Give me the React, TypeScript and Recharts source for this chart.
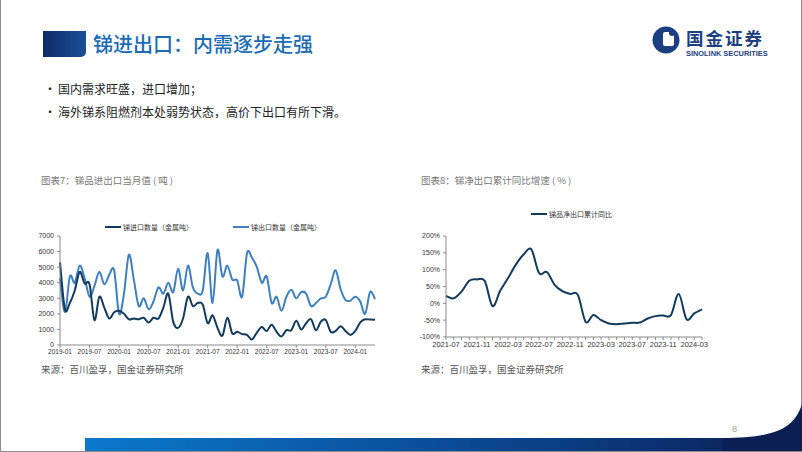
import { LineChart, Line, XAxis, YAxis } from "recharts";

// 图表7：锑品进出口当月值（吨）
const leftMonths = [
  "2019-01", "2019-02", "2019-03", "2019-04", "2019-05", "2019-06", "2019-07", "2019-08", "2019-09", "2019-10", "2019-11", "2019-12",
  "2020-01", "2020-02", "2020-03", "2020-04", "2020-05", "2020-06", "2020-07", "2020-08", "2020-09", "2020-10", "2020-11", "2020-12",
  "2021-01", "2021-02", "2021-03", "2021-04", "2021-05", "2021-06", "2021-07", "2021-08", "2021-09", "2021-10", "2021-11", "2021-12",
  "2022-01", "2022-02", "2022-03", "2022-04", "2022-05", "2022-06", "2022-07", "2022-08", "2022-09", "2022-10", "2022-11", "2022-12",
  "2023-01", "2023-02", "2023-03", "2023-04", "2023-05", "2023-06", "2023-07", "2023-08", "2023-09", "2023-10", "2023-11", "2023-12",
  "2024-01", "2024-02", "2024-03", "2024-04", "2024-05",
];

const importTons = [
  5300, 2300, 2700, 3500, 4700, 3950, 3900, 1600, 3100, 2400, 1700, 2100,
  2200, 2000, 1650, 1700, 1650, 1750, 1450, 1750, 1700, 2400, 3300, 1500,
  1100, 1700, 3100, 2500, 2700, 2600, 1400, 1900, 1100, 600, 1750, 750,
  850, 700, 650, 350, 800, 1150, 900, 1300, 850, 550, 950, 950,
  1550, 1000, 1400, 1650, 950, 1500, 1600, 850, 900, 1200, 900, 650,
  900, 1450, 1650, 1630, 1620,
];

const exportTons = [
  4300, 2100, 4400, 4000, 5100, 4300, 3100, 3800, 4700, 3900, 4500, 4800,
  2000, 3300, 5800, 4200, 2500, 3000, 2300, 2800, 3700, 3300, 4000, 3400,
  4900, 3500, 5100, 3700, 3300, 3500, 5900, 2700, 6100, 4400, 5100, 4200,
  4150, 3100, 5900, 5600, 5000, 4000, 4400, 2700, 3100, 2200, 3100, 3550,
  3000, 3400, 3300, 2500, 2700, 3000, 3100, 3900, 4800, 3600, 2900, 2850,
  3100, 2800, 2000, 3400, 2950,
];

const leftYTicks = [0, 1000, 2000, 3000, 4000, 5000, 6000, 7000];

// 图表8：锑净出口累计同比增速（%）
const rightMonths = [
  "2021-07", "2021-08", "2021-09", "2021-10", "2021-11", "2021-12",
  "2022-01", "2022-02", "2022-03", "2022-04", "2022-05", "2022-06", "2022-07", "2022-08", "2022-09", "2022-10", "2022-11", "2022-12",
  "2023-01", "2023-02", "2023-03", "2023-04", "2023-05", "2023-06", "2023-07", "2023-08", "2023-09", "2023-10", "2023-11", "2023-12",
  "2024-01", "2024-02", "2024-03", "2024-04",
];

const netExportYoY = [
  22, 15, 35, 67, 71, 66,
  -8, 38, 75, 115, 145, 160, 90, 93, 55, 36, 28, 25,
  -55, -35, -50, -60, -62, -60, -58, -57, -45, -38, -36, -35,
  28, -47, -30, -18,
];

const rightTickLabels = ["2021-07", "2021-11", "2022-03", "2022-07", "2022-11", "2023-03", "2023-07", "2023-11", "2024-03"];
const rightYTicks = [-100, -50, 0, 50, 100, 150, 200];

const leftData = leftMonths.map((month, i) => ({
  month,
  importTons: importTons[i],
  exportTons: exportTons[i],
}));

const rightData = rightMonths.map((month, i) => ({
  month,
  netExportYoY: netExportYoY[i],
}));

const cjk = '"Noto Sans CJK SC", "Noto Sans", sans-serif';
const latin = '"Liberation Sans", Arial, sans-serif';
const axisColor = "#8a8a8a";
const darkLine = "#123a5c";
const lightLine = "#3f80c2";

// Excel-style smoothed line (Catmull-Rom through every point)
function smoothCurve(context: any) {
  let pts: [number, number][] = [];
  return {
    areaStart() {},
    areaEnd() {},
    lineStart() {
      pts = [];
    },
    lineEnd() {
      if (!pts.length) return;
      context.moveTo(pts[0][0], pts[0][1]);
      for (let i = 0; i < pts.length - 1; i++) {
        const p0 = pts[i - 1] || pts[i];
        const p1 = pts[i];
        const p2 = pts[i + 1];
        const p3 = pts[i + 2] || p2;
        context.bezierCurveTo(
          p1[0] + (p2[0] - p0[0]) / 6,
          p1[1] + (p2[1] - p0[1]) / 6,
          p2[0] - (p3[0] - p1[0]) / 6,
          p2[1] - (p3[1] - p1[1]) / 6,
          p2[0],
          p2[1]
        );
      }
    },
    point(x: number, y: number) {
      pts.push([+x, +y]);
    },
  };
}

export default function App() {
  return (
    <div
      style={{
        position: "absolute",
        left: 0,
        top: 0,
        width: 802,
        height: 452,
        background: "#ffffff",
        overflow: "hidden",
        fontFamily: cjk,
      }}
    >
      {/* frame */}
      <div style={{ position: "absolute", left: 0, top: 0, width: 1, height: 452, background: "#8c8c8c" }} />
      <div style={{ position: "absolute", right: 0, top: 0, width: 1, height: 452, background: "#8c8c8c" }} />

      {/* title */}
      <div
        style={{
          position: "absolute",
          left: 43,
          top: 31,
          width: 43,
          height: 26,
          background: "linear-gradient(90deg, #0d2c68, #1b4f96)",
          borderBottomRightRadius: 5,
        }}
      />
      <div
        style={{
          position: "absolute",
          left: 93,
          top: 31,
          fontSize: 20,
          lineHeight: "26px",
          color: "#1a6cb6",
          fontWeight: 500,
          whiteSpace: "nowrap",
        }}
      >
        锑进出口：内需逐步走强
      </div>

      {/* logo */}
      <svg style={{ position: "absolute", left: 650, top: 26 }} width={34} height={30}>
        <circle cx={16} cy={14} r={13.5} fill="#1b3f80" />
        <rect x={13} y={6} width={11} height={14} rx={2} fill="#ffffff" />
        <circle cx={22} cy={7} r={3} fill="#1b3f80" />
      </svg>
      <div
        style={{
          position: "absolute",
          left: 686,
          top: 28,
          fontSize: 17.5,
          lineHeight: "20px",
          fontWeight: 700,
          color: "#1b3f80",
          letterSpacing: 2,
          whiteSpace: "nowrap",
        }}
      >
        国金证券
      </div>
      <div
        style={{
          position: "absolute",
          left: 686,
          top: 49,
          fontSize: 7.4,
          lineHeight: "9px",
          fontWeight: 700,
          color: "#1b3f80",
          fontFamily: latin,
          whiteSpace: "nowrap",
        }}
      >
        SINOLINK SECURITIES
      </div>

      {/* bullets */}
      {["国内需求旺盛，进口增加；", "海外锑系阻燃剂本处弱势状态，高价下出口有所下滑。"].map((text, i) => (
        <div
          key={text}
          style={{
            position: "absolute",
            left: 44,
            top: 81 + i * 23,
            fontSize: 12,
            lineHeight: "16px",
            color: "#222",
            whiteSpace: "nowrap",
          }}
        >
          <span style={{ display: "inline-block", width: 14 }}>•</span>
          {text}
        </div>
      ))}

      {/* captions */}
      <div style={captionStyle(41)}>图表7：锑品进出口当月值 ( 吨 )</div>
      <div style={captionStyle(421)}>图表8：锑净出口累计同比增速 ( % )</div>

      {/* left legend */}
      <LegendItem left={105} top={227} color={darkLine} label="锑进口数量（金属吨）" />
      <LegendItem left={233} top={227} color={lightLine} label="锑出口数量（金属吨）" />

      {/* left chart */}
      <div style={{ position: "absolute", left: 20, top: 225 }}>
        <LineChart width={365} height={140} data={leftData} margin={{ top: 11, right: 10, bottom: 0, left: 0 }}>
          <XAxis
            dataKey="month"
            interval={5}
            height={20}
            tickSize={3}
            tickMargin={1}
            stroke={axisColor}
            tick={{ fontSize: 6.5, fill: "#333", fontFamily: latin }}
          />
          <YAxis
            width={40}
            domain={[0, 7000]}
            ticks={leftYTicks}
            tickSize={3}
            tickMargin={3}
            stroke={axisColor}
            tick={{ fontSize: 7, fill: "#333", fontFamily: latin }}
          />
          <Line
            type={smoothCurve as any}
            dataKey="exportTons"
            stroke={lightLine}
            strokeWidth={2}
            dot={false}
            isAnimationActive={false}
          />
          <Line
            type={smoothCurve as any}
            dataKey="importTons"
            stroke={darkLine}
            strokeWidth={2}
            dot={false}
            isAnimationActive={false}
          />
        </LineChart>
      </div>

      {/* right legend */}
      <LegendItem left={531} top={214} color={darkLine} label="锑品净出口累计同比" />

      {/* right chart */}
      <div style={{ position: "absolute", left: 400, top: 225 }}>
        <LineChart width={310} height={132} data={rightData} margin={{ top: 11, right: 8, bottom: 0, left: 0 }}>
          <XAxis
            dataKey="month"
            interval={0}
            height={20}
            tickSize={3}
            stroke={axisColor}
            tick={renderRightTick}
          />
          <YAxis
            width={46}
            domain={[-100, 200]}
            ticks={rightYTicks}
            tickSize={3}
            tickMargin={3}
            stroke={axisColor}
            tickFormatter={(v) => `${v}%`}
            tick={{ fontSize: 7, fill: "#333", fontFamily: latin }}
          />
          <Line
            type={smoothCurve as any}
            dataKey="netExportYoY"
            stroke={darkLine}
            strokeWidth={2}
            dot={false}
            isAnimationActive={false}
          />
        </LineChart>
      </div>

      {/* sources */}
      <div style={sourceStyle(41)}>来源：百川盈孚，国金证券研究所</div>
      <div style={sourceStyle(421)}>来源：百川盈孚，国金证券研究所</div>

      {/* footer */}
      <svg style={{ position: "absolute", left: 0, top: 400 }} width={802} height={52}>
        <defs>
          <linearGradient id="barGrad" x1="0" x2="1" y1="0" y2="0">
            <stop offset="0%" stopColor="#0b79cc" />
            <stop offset="50%" stopColor="#0a4c98" />
            <stop offset="100%" stopColor="#0b1f55" />
          </linearGradient>
        </defs>
        <rect x={85} y={38} width={717} height={14} fill="url(#barGrad)" />
        <path d="M 722 38 C 772 38 794 30 802 4 L 802 52 L 722 52 Z" fill="#0b1f55" />
        <rect x={0} y={51} width={802} height={1} fill="#8c8c8c" />
      </svg>
      <div
        style={{
          position: "absolute",
          left: 732,
          top: 424,
          fontSize: 9,
          color: "#a0a0a0",
          fontFamily: latin,
        }}
      >
        8
      </div>
    </div>
  );
}

function LegendItem({ left, top, color, label }: { left: number; top: number; color: string; label: string }) {
  return (
    <div style={{ position: "absolute", left, top: top - 5, height: 10, display: "flex", alignItems: "center", whiteSpace: "nowrap" }}>
      <div style={{ width: 16, height: 2, background: color, marginRight: 2 }} />
      <span style={{ fontSize: 7, lineHeight: "10px", color: "#333", fontFamily: cjk }}>{label}</span>
    </div>
  );
}

function renderRightTick(props: any) {
  const { x, y, payload } = props;
  if (!rightTickLabels.includes(payload.value)) {
    return <g />;
  }
  return (
    <text x={x} y={y} dy="0.71em" textAnchor="middle" fontSize={7.5} fill="#333" fontFamily={latin}>
      {payload.value}
    </text>
  );
}

function captionStyle(left: number) {
  return {
    position: "absolute" as const,
    left,
    top: 173,
    fontSize: 9.5,
    lineHeight: "14px",
    color: "#777",
    whiteSpace: "nowrap" as const,
  };
}

function sourceStyle(left: number) {
  return {
    position: "absolute" as const,
    left,
    top: 362,
    fontSize: 9.5,
    lineHeight: "14px",
    color: "#555",
    whiteSpace: "nowrap" as const,
  };
}
